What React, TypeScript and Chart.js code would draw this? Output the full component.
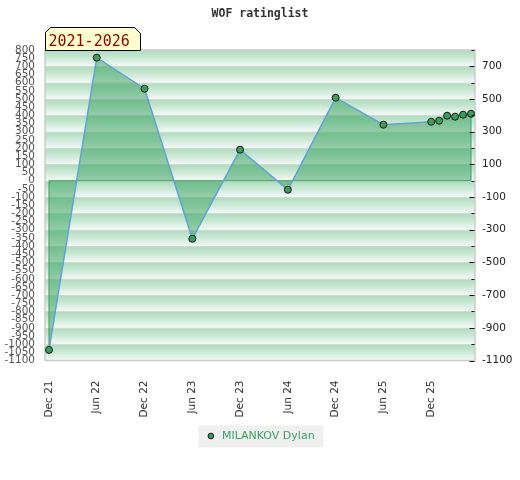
import React, { useEffect, useRef } from "react";
import { Chart, registerables } from "chart.js";

Chart.register(...registerables);

// ---- data ----
const seriesName = "MILANKOV Dylan";
const titleText = "WOF ratinglist";
const rangeLabel = "2021-2026";
const periods = [
  "2021-12", "2022-06", "2022-12", "2023-06", "2023-12", "2024-06", "2024-12",
  "2025-06", "2025-12", "2026-01", "2026-02", "2026-03", "2026-04", "2026-05",
];
const ratings = [-1035, 753, 563, -355, 190, -55, 508, 343, 361, 367, 398, 392, 404, 410];
const tickPeriods = [
  "2021-12", "2022-06", "2022-12", "2023-06", "2023-12", "2024-06", "2024-12", "2025-06", "2025-12",
];
const monthNames = ["Jan", "Feb", "Mar", "Apr", "May", "Jun", "Jul", "Aug", "Sep", "Oct", "Nov", "Dec"];
const yMin = -1100;
const yMax = 800;
const leftStep = 50;
const rightStep = 100;
const rightLabelStep = 200;

const baseYear = 2021;
const baseMonth = 12;
function monthIndex(p: string): number {
  const [y, m] = p.split("-").map(Number);
  return (y - baseYear) * 12 + (m - baseMonth);
}
function labelForIndex(v: number): string {
  const total = baseYear * 12 + (baseMonth - 1) + v;
  const y = Math.floor(total / 12);
  const m = total % 12;
  return `${monthNames[m]} ${String(y).slice(2)}`;
}

const points = periods.map((p, i) => ({ x: monthIndex(p), y: ratings[i] }));

const bgPlugin = {
  id: "bgBands",
  beforeDraw(chart: any) {
    const { ctx, chartArea: a, scales } = chart;
    const ys = scales.y;
    ctx.save();
    for (let v = yMax; v > yMin; v -= rightStep) {
      const top = ys.getPixelForValue(v);
      const bot = ys.getPixelForValue(v - rightStep);
      const g = ctx.createLinearGradient(0, top, 0, bot);
      g.addColorStop(0, "#acdbbe");
      g.addColorStop(0.4, "#c6e6d1");
      g.addColorStop(1, "#f4faf6");
      ctx.fillStyle = g;
      ctx.fillRect(a.left, top, a.right - a.left, bot - top);
      ctx.fillStyle = "#d4d8d5";
      ctx.fillRect(a.left, Math.round(top), a.right - a.left, 1);
    }
    ctx.strokeStyle = "#cccccc";
    ctx.lineWidth = 1.5;
    ctx.strokeRect(a.left, a.top, a.right - a.left, a.bottom - a.top);
    // legend background
    const lg = chart.legend;
    if (lg && lg.legendHitBoxes && lg.legendHitBoxes.length) {
      const hb = lg.legendHitBoxes[0];
      ctx.fillStyle = "#f0f0f0";
      ctx.fillRect(hb.left - 7, hb.top - 5, hb.width + 16, hb.height + 11);
    }
    ctx.restore();
  },
  beforeDatasetDraw(chart: any, args: any) {
    if (args.index !== 0) return;
    const { ctx, scales } = chart;
    const meta = chart.getDatasetMeta(0);
    const pts = meta.data;
    if (!pts.length) return;
    const y0 = scales.y.getPixelForValue(0);
    const f = pts[0];
    const l = pts[pts.length - 1];
    ctx.save();
    ctx.strokeStyle = "#3e9b5e";
    ctx.lineWidth = 1;
    ctx.beginPath();
    ctx.moveTo(f.x, f.y);
    ctx.lineTo(f.x, y0);
    ctx.lineTo(l.x, y0);
    ctx.lineTo(l.x, l.y);
    ctx.stroke();
    ctx.restore();
  },
  afterDraw(chart: any) {
    const { ctx, chartArea: a, scales } = chart;
    const y2 = scales.y2;
    ctx.save();
    ctx.strokeStyle = "#111";
    ctx.lineWidth = 1;
    y2.ticks.forEach((t: any) => {
      const py = Math.round(y2.getPixelForValue(t.value)) + 0.5;
      const labeled = (t.value - yMin) % rightLabelStep === 0;
      const len = labeled ? 5 : 3;
      ctx.beginPath();
      ctx.moveTo(a.right - len - 0.5, py);
      ctx.lineTo(a.right - 0.5, py);
      ctx.stroke();
    });
    // range label box
    const left = a.left + 0.5;
    const right = a.left + 95.5;
    const top = a.top - 22.5;
    const bottom = a.top + 0.5;
    ctx.beginPath();
    ctx.moveTo(left, bottom);
    ctx.lineTo(left, top + 5);
    ctx.lineTo(left + 5, top);
    ctx.lineTo(right - 6, top);
    ctx.lineTo(right, top + 6);
    ctx.lineTo(right, bottom);
    ctx.closePath();
    ctx.fillStyle = "#ffffcc";
    ctx.fill();
    ctx.strokeStyle = "#000";
    ctx.stroke();
    ctx.fillStyle = "#8b0000";
    ctx.font = "15px 'DejaVu Sans Mono'";
    ctx.textBaseline = "alphabetic";
    ctx.textAlign = "left";
    ctx.fillText(rangeLabel, left + 3, a.top - 4);
    ctx.restore();
  },
};

export default function App() {
  const ref = useRef<HTMLCanvasElement | null>(null);
  useEffect(() => {
    if (!ref.current) return;
    Chart.defaults.font.family = "'DejaVu Sans', sans-serif";
    const xMin = monthIndex(periods[0]) - 0.5;
    const xMax = monthIndex(periods[periods.length - 1]) + 0.5;
    const chart = new Chart(ref.current, {
      type: "line",
      data: {
        datasets: [
          {
            label: seriesName,
            data: points,
            borderColor: "#5fa2d8",
            borderWidth: 1.5,
            backgroundColor: "rgba(52,160,92,0.5)",
            fill: "origin",
            tension: 0,
            pointRadius: 3.5,
            pointHoverRadius: 3.5,
            pointStyle: "circle",
            pointBackgroundColor: "#39a05c",
            pointBorderColor: "#151515",
            pointBorderWidth: 1,
          },
        ],
      },
      options: {
        responsive: false,
        animation: false,
        devicePixelRatio: 1,
        layout: { padding: { top: 0, left: 0, right: 0, bottom: 28.5 } },
        plugins: {
          title: {
            display: true,
            text: titleText,
            color: "#333",
            font: { family: "'DejaVu Sans Mono', monospace", weight: "bold", size: 11.5 },
            padding: { top: 7, bottom: 29.2 },
          },
          legend: {
            display: true,
            position: "bottom",
            labels: {
              usePointStyle: true,
              boxWidth: 11,
              boxHeight: 4,
              padding: 10,
              color: "#3aa25e",
              font: { size: 11 },
            },
          },
          tooltip: { enabled: false },
        },
        scales: {
          x: {
            type: "linear",
            min: xMin,
            max: xMax,
            grid: { display: false },
            border: { display: false },
            afterBuildTicks: (s: any) => {
              s.ticks = tickPeriods.map((p) => ({ value: monthIndex(p) }));
            },
            afterFit: (s: any) => {
              s.height = 60;
            },
            ticks: {
              autoSkip: false,
              minRotation: 90,
              maxRotation: 90,
              padding: 12,
              color: "#333",
              font: { size: 10.5 },
              callback: (v: any) => labelForIndex(Number(v)),
            },
          },
          y: {
            type: "linear",
            position: "left",
            min: yMin,
            max: yMax,
            grid: { display: false, drawTicks: false },
            border: { display: false },
            afterFit: (s: any) => {
              s.width = 45;
            },
            ticks: {
              stepSize: leftStep,
              autoSkip: false,
              padding: 10,
              color: "#555",
              font: { size: 10.5 },
              callback: (v: any) => String(v),
            },
          },
          y2: {
            type: "linear",
            position: "right",
            min: yMin,
            max: yMax,
            grid: { display: false, drawTicks: false },
            border: { display: false },
            afterFit: (s: any) => {
              s.width = 45;
            },
            ticks: {
              stepSize: rightStep,
              autoSkip: false,
              padding: 7,
              color: "#222",
              font: { size: 10.5 },
              callback: (v: any) => ((Number(v) - yMin) % rightLabelStep === 0 ? String(v) : ""),
            },
          },
        },
      } as any,
      plugins: [bgPlugin],
    });
    return () => chart.destroy();
  }, []);
  return (
    <div style={{ position: "absolute", left: 0, top: 0, width: 520, height: 480, background: "#fff" }}>
      <canvas ref={ref} width={520} height={480} style={{ width: 520, height: 480, display: "block" }} />
    </div>
  );
}
